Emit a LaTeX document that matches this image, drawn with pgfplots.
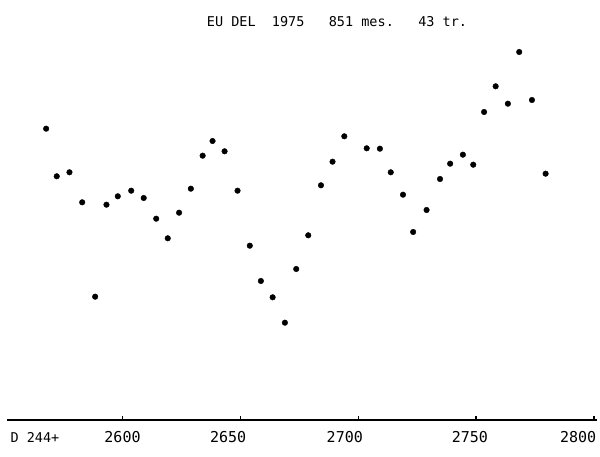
\documentclass[border=0pt]{standalone}
\usepackage{fontspec}
\setmainfont{DejaVu Sans Mono}
\usepackage{pgfplots}
\pgfplotsset{compat=1.18}

% EU Del 1975, 43 nights; y = height above the time axis (no scale given)
\pgfplotstableread{
x y
2567.6 291.3
2572.1 243.7
2577.5 247.7
2582.9 217.7
2588.4 123.3
2593.2 215.3
2598.0 223.7
2603.7 229.3
2609.0 222.0
2614.3 201.3
2619.2 181.7
2624.0 207.3
2629.0 231.3
2634.0 264.3
2638.2 279.0
2643.3 268.7
2648.8 229.3
2654.0 174.3
2658.7 139.0
2663.7 122.7
2668.9 97.3
2673.7 151.0
2678.8 184.7
2684.2 234.7
2689.1 258.3
2694.1 283.7
2703.6 271.7
2709.2 271.3
2713.8 247.7
2719.0 225.3
2723.3 188.0
2729.0 210.0
2734.7 241.0
2739.0 256.3
2744.4 265.3
2748.8 255.3
2753.4 308.0
2758.3 333.7
2763.5 316.3
2768.3 368.0
2773.7 320.0
2779.5 246.3
}\eudel

\begin{document}
\begin{tikzpicture}
\begin{axis}[
    scale only axis,
    width=590pt, height=390pt,
    xmin=2551, xmax=2801.3,
    ymin=0, ymax=390,
    axis x line*=bottom,
    axis y line=none,
    x axis line style={line width=1.2pt,-},
    xtick={2600,2650,2700,2750,2800},
    xticklabels={},
    tick align=inside,
    major tick length=4pt,
    tick style={black,line width=1.2pt},
    % the plotter set its labels a little left of the ticks
    extra x ticks={2600,2644.8,2694.3,2747.4,2793.3},
    extra x tick labels={2600,2650,2700,2750,2800},
    extra x tick style={major tick length=0pt},
    xticklabel style={font=\fontsize{15}{15}\selectfont,anchor=base,yshift=-23pt},
    /pgf/number format/1000 sep={},
    clip=false,
]
\coordinate (bl) at (rel axis cs:0,0);
\addplot[only marks, mark=*, mark size=2.8pt, black] table {\eudel};
\end{axis}
\node[anchor=base west, font=\fontsize{13.5}{13.5}\selectfont]
    at ([shift={(0pt,-23pt)}]bl) {D 244+};
\node[anchor=base, font=\fontsize{13.5}{13.5}\selectfont]
    at ([shift={(330pt,393pt)}]bl) {EU DEL\ \ 1975\ \ \ 851 mes.\ \ \ 43 tr.};
\pgfresetboundingbox
\path ([shift={(-7pt,-37pt)}]bl) rectangle ([shift={(593pt,420pt)}]bl);
\end{tikzpicture}
\end{document}
